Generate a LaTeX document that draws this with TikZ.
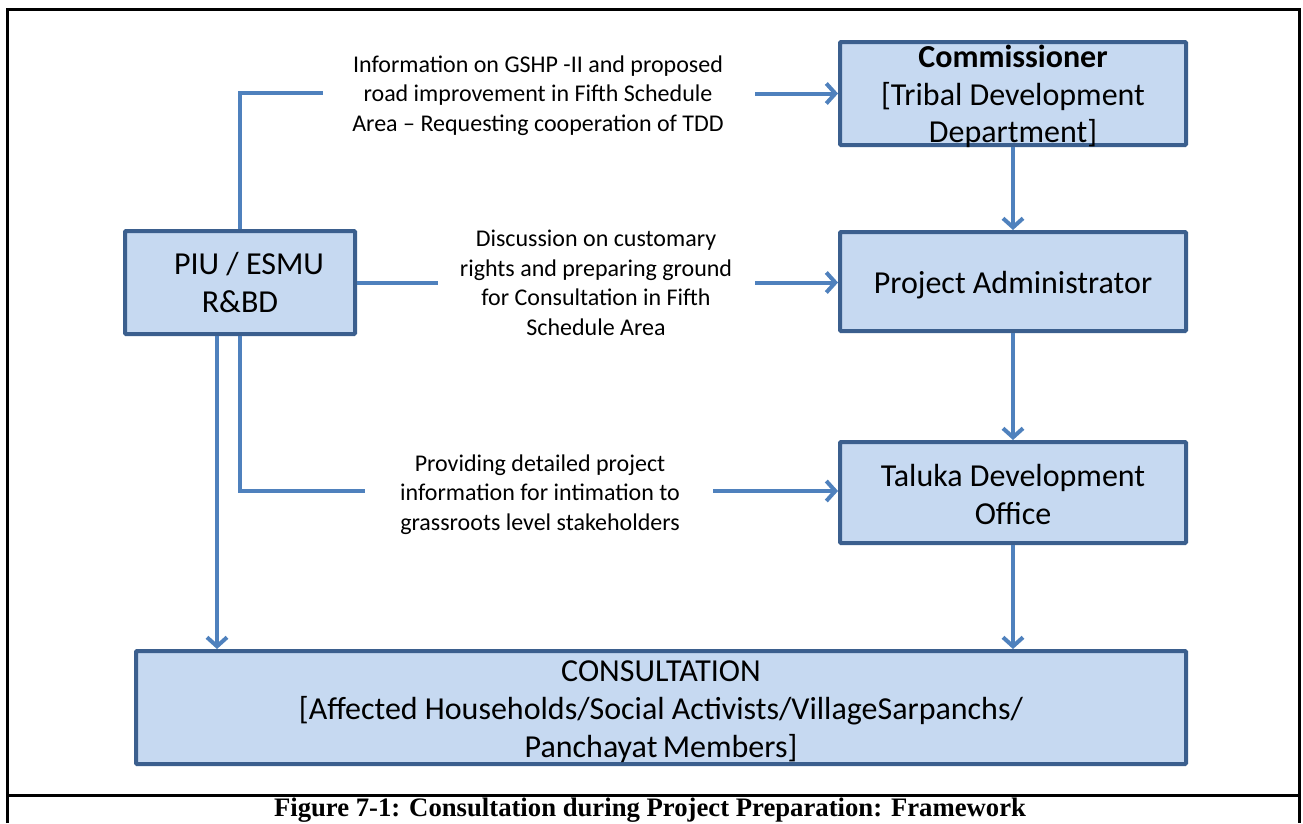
\documentclass[tikz,border=0pt]{standalone}
\usepackage{fontspec}
\setmainfont{Carlito}
\newfontfamily\capfont{Liberation Serif}
\usetikzlibrary{arrows.meta}
\definecolor{boxfill}{HTML}{C6D9F1}
\definecolor{boxline}{HTML}{3B5F8E}
\definecolor{conn}{HTML}{4F81BD}
\tikzset{
  box/.style={draw=boxline, fill=boxfill, line width=4pt, rounded corners=1pt, inner sep=0pt},
  boxtxt/.style={align=center, inner sep=0pt, font=\fontsize{32}{37.5}\selectfont},
  lab/.style={align=center, inner sep=0pt, font=\fontsize{24}{29.5}\selectfont},
  link/.style={draw=conn, line width=4pt},
  arr/.style={link, -{Straight Barb[length=9pt,width=20pt,line width=4pt]}},
}
\begin{document}
\begin{tikzpicture}[x=1pt,y=-1pt]
\useasboundingbox (0,0) rectangle (1303,823);
% frame
\draw[line width=3pt] (7.5,823) -- (7.5,9) -- (1299.5,9) -- (1299.5,823);
\draw[line width=3pt] (7.5,795) -- (1299.5,795);
% boxes
\node[box, minimum width=346pt, minimum height=103pt,
  label={[boxtxt,yshift=-3pt]center:{\textbf{Commissioner}\\{}[Tribal Development\\Department]}}] (comm) at (1013,93.5) {};
\node[box, minimum width=346pt, minimum height=99pt,
  label={[boxtxt,yshift=-4pt]center:{Project Administrator}}] (pa) at (1013,281.5) {};
\node[box, minimum width=346pt, minimum height=101pt,
  label={[boxtxt,yshift=-2pt]center:{Taluka Development\\Office}}] (tdo) at (1013,492.5) {};
\node[box, minimum width=230pt, minimum height=103pt,
  label={[boxtxt,yshift=0pt]center:{\hspace*{18pt}PIU / ESMU\\R\&BD}}] (piu) at (240,282.5) {};
\node[box, minimum width=1050pt, minimum height=113pt,
  label={[boxtxt,font=\fontsize{32}{38}\selectfont,yshift=-4pt]center:{CONSULTATION\\{}[Affected Households/Social Activists/VillageSarpanchs/\\Panchayat\,Members]}}] (cons) at (661,707.5) {};
% labels
\node[lab] (lab1) at (538,95.5) {Information on GSHP -II and proposed\\road improvement in Fifth Schedule\\Area -- Requesting cooperation of TDD};
\node[lab] (lab2) at (596,283) {Discussion on customary\\rights and preparing ground\\for Consultation in Fifth\\Schedule Area};
\node[lab] (lab3) at (540,494.5) {Providing detailed project\\information for intimation to\\grassroots level stakeholders};
% coordinates
\coordinate (l1a) at (323,93);
\coordinate (l1b) at (755,93.5);
\coordinate (l2a) at (438,282.5);
\coordinate (l2b) at (755,282.5);
\coordinate (l3a) at (365,491);
\coordinate (l3b) at (713,491);
\coordinate (p4) at (217,0);
% connectors
\draw[link] (piu.north) |- (l1a);
\draw[arr] (l1b) -- (l1b -| comm.west);
\draw[link] (piu.east) -- (l2a);
\draw[arr] (l2b) -- (l2b -| pa.west);
\draw[link] (piu.south) |- (l3a);
\draw[arr] (l3b) -- (l3b -| tdo.west);
\draw[arr] (piu.south -| p4) -- (p4 |- cons.north);
\draw[arr] (comm.south) -- (pa.north);
\draw[arr] (pa.south) -- (tdo.north);
\draw[arr] (tdo.south) -- (tdo.south |- cons.north);
% caption
\node[anchor=base, inner sep=0pt, font=\capfont\bfseries\fontsize{26.7}{30}\selectfont] (cap) at (650,816.5) {Figure 7-1: Consultation during Project Preparation: Framework};
\end{tikzpicture}
\end{document}
